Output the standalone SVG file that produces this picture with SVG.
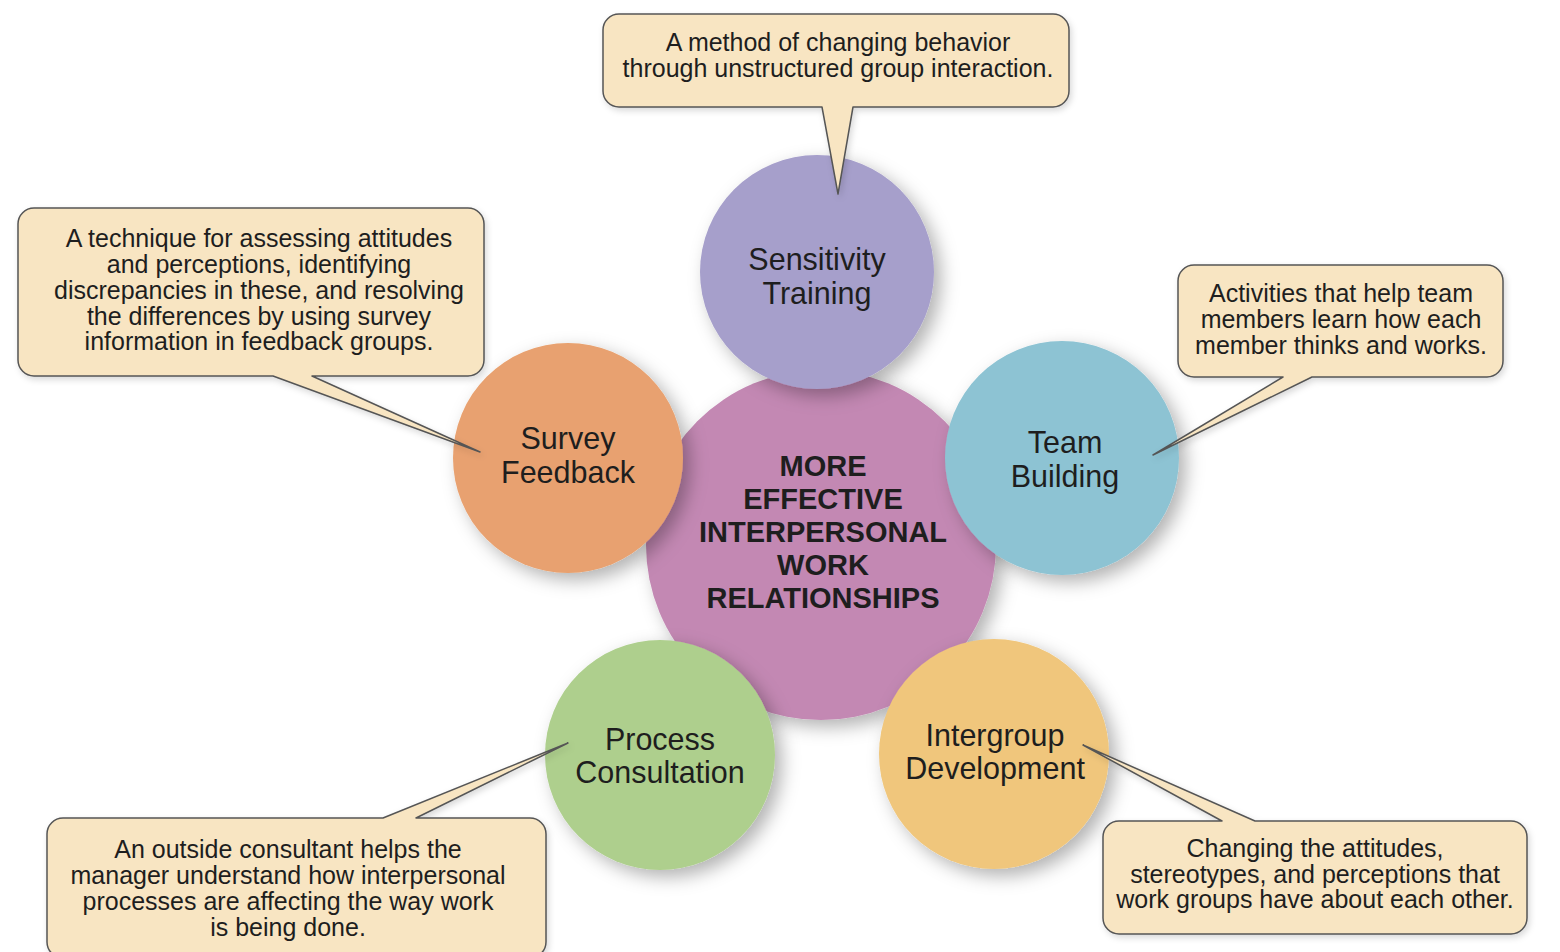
<svg xmlns="http://www.w3.org/2000/svg" width="1560" height="952" viewBox="0 0 1560 952">
<defs>
<filter id="sh" x="-30%" y="-30%" width="170%" height="170%">
<feDropShadow dx="7" dy="7" stdDeviation="9" flood-color="#000" flood-opacity="0.3"/>
</filter>
<filter id="csh" x="-10%" y="-10%" width="120%" height="130%">
<feDropShadow dx="2" dy="3" stdDeviation="3" flood-color="#000" flood-opacity="0.15"/>
</filter>
</defs>
<style>
text{font-family:"Liberation Sans",Arial,Helvetica,sans-serif;fill:#1e1e1e;text-anchor:middle}
.lbl{font-size:30.5px}
.ctr{font-size:29px;font-weight:bold}
.co{font-size:25px}
.call{fill:#F8E5C2;stroke:#555;stroke-width:1.5;stroke-linejoin:round;filter:url(#csh)}
.circ{filter:url(#sh)}
</style>
<rect width="1560" height="952" fill="#fff"/>

<g id="center">
<circle class="circ" cx="821" cy="545" r="175" fill="#C388B3"/>
<text class="ctr" x="823" y="476">MORE</text>
<text class="ctr" x="823" y="509">EFFECTIVE</text>
<text class="ctr" x="823" y="542">INTERPERSONAL</text>
<text class="ctr" x="823" y="575">WORK</text>
<text class="ctr" x="823" y="608">RELATIONSHIPS</text>
</g>

<g id="sensitivity-training">
<circle class="circ" cx="817" cy="272" r="117" fill="#A69FCB"/>
<text class="lbl" x="817" y="270">Sensitivity</text>
<text class="lbl" x="817" y="304">Training</text>
</g>

<g id="survey-feedback">
<circle class="circ" cx="568" cy="458" r="115" fill="#E8A16F"/>
<text class="lbl" x="568" y="449">Survey</text>
<text class="lbl" x="568" y="483">Feedback</text>
</g>

<g id="team-building">
<circle class="circ" cx="1062" cy="458" r="117" fill="#8DC3D3"/>
<text class="lbl" x="1065" y="453">Team</text>
<text class="lbl" x="1065" y="487">Building</text>
</g>

<g id="process-consultation">
<circle class="circ" cx="660" cy="755" r="115" fill="#AECF8D"/>
<text class="lbl" x="660" y="750">Process</text>
<text class="lbl" x="660" y="783">Consultation</text>
</g>

<g id="intergroup-development">
<circle class="circ" cx="994" cy="754" r="115" fill="#F0C67B"/>
<text class="lbl" x="995" y="746">Intergroup</text>
<text class="lbl" x="995" y="779">Development</text>
</g>

<g id="connectors">
<g id="callout-sensitivity">
<path class="call" d="M619,14 H1053 A16,16 0 0 1 1069,30 V91 A16,16 0 0 1 1053,107 H853 L838,194 L822,107 H619 A16,16 0 0 1 603,91 V30 A16,16 0 0 1 619,14 Z"/>
<text class="co" x="838" y="51">A method of changing behavior</text>
<text class="co" x="838" y="77">through unstructured group interaction.</text>
</g>
<g id="callout-survey">
<path class="call" d="M34,208 H468 A16,16 0 0 1 484,224 V360 A16,16 0 0 1 468,376 H312 L480,452 L273,376 H34 A16,16 0 0 1 18,360 V224 A16,16 0 0 1 34,208 Z"/>
<text class="co" x="259" y="247">A technique for assessing attitudes</text>
<text class="co" x="259" y="273">and perceptions, identifying</text>
<text class="co" x="259" y="299">discrepancies in these, and resolving</text>
<text class="co" x="259" y="325">the differences by using survey</text>
<text class="co" x="259" y="350">information in feedback groups.</text>
</g>
<g id="callout-team">
<path class="call" d="M1194,265 H1487 A16,16 0 0 1 1503,281 V361 A16,16 0 0 1 1487,377 H1312 L1153,455 L1283,377 H1194 A16,16 0 0 1 1178,361 V281 A16,16 0 0 1 1194,265 Z"/>
<text class="co" x="1341" y="302">Activities that help team</text>
<text class="co" x="1341" y="328">members learn how each</text>
<text class="co" x="1341" y="354">member thinks and works.</text>
</g>
<g id="callout-process">
<path class="call" d="M63,818 H383 L568,743 L416,818 H530 A16,16 0 0 1 546,834 V942 A16,16 0 0 1 530,958 H63 A16,16 0 0 1 47,942 V834 A16,16 0 0 1 63,818 Z"/>
<text class="co" x="288" y="858">An outside consultant helps the</text>
<text class="co" x="288" y="884">manager understand how interpersonal</text>
<text class="co" x="288" y="910">processes are affecting the way work</text>
<text class="co" x="288" y="936">is being done.</text>
</g>
<g id="callout-intergroup">
<path class="call" d="M1119,821 H1222 L1083,745 L1255,821 H1511 A16,16 0 0 1 1527,837 V918 A16,16 0 0 1 1511,934 H1119 A16,16 0 0 1 1103,918 V837 A16,16 0 0 1 1119,821 Z"/>
<text class="co" x="1315" y="857">Changing the attitudes,</text>
<text class="co" x="1315" y="883">stereotypes, and perceptions that</text>
<text class="co" x="1315" y="908">work groups have about each other.</text>
</g>
</g>
</svg>
